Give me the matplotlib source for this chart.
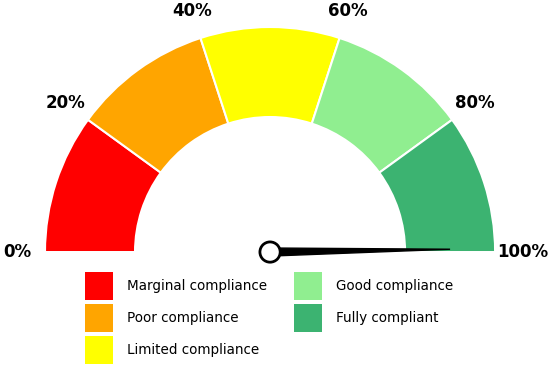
import numpy as np
import matplotlib.pyplot as plt
from matplotlib.patches import Wedge, Circle, Polygon, Patch

# gauge data
bands = ['Marginal compliance', 'Poor compliance', 'Limited compliance',
         'Good compliance', 'Fully compliant']
colors = ['#ff0000', '#ffa500', '#ffff00', '#90ee90', '#3cb371']
edges = [0, 20, 40, 60, 80, 100]
tick_labels = ['0%', '20%', '40%', '60%', '80%', '100%']
value = 99.5

fig = plt.figure(figsize=(5.5, 3.72), dpi=100)
ax = fig.add_axes([0, 0, 1, 1])
ax.set_xlim(-1.2, 1.244)
ax.set_ylim(-0.533, 1.12)
ax.set_aspect('equal')
ax.axis('off')

def pct2deg(p):
    return 180 * (1 - p / 100)

for i, c in enumerate(colors):
    w = Wedge((0, 0), 1.0, pct2deg(edges[i + 1]), pct2deg(edges[i]), width=0.4,
              facecolor=c, edgecolor='white', linewidth=1.5)
    ax.add_patch(w)

for p, lab in zip(edges, tick_labels):
    a = np.deg2rad(pct2deg(p))
    ax.text(1.125 * np.cos(a), 1.125 * np.sin(a), lab, ha='center', va='center',
            fontsize=12, fontweight='bold')

# needle
a = np.deg2rad(pct2deg(value))
hw = 0.018
L = 0.8
pts = [(-hw * np.sin(a), hw * np.cos(a)), (L * np.cos(a), L * np.sin(a)),
       (hw * np.sin(a), -hw * np.cos(a))]
ax.add_patch(Polygon(pts, closed=True, facecolor='black', edgecolor='black', zorder=3))
ax.add_patch(Circle((0, 0), 0.045, facecolor='white', edgecolor='black', linewidth=2, zorder=4))

handles = [Patch(facecolor=c, label=b) for c, b in zip(colors, bands)]
fig.legend(handles=handles, ncol=2, loc='upper left', bbox_to_anchor=(85 / 550, 1 - 272 / 372),
           frameon=False, fontsize=9.75, handlelength=2.07, handleheight=2.8,
           labelspacing=0.3, handletextpad=1.03, columnspacing=2.0,
           borderpad=0, borderaxespad=0)

plt.savefig('out.png', dpi=100)
